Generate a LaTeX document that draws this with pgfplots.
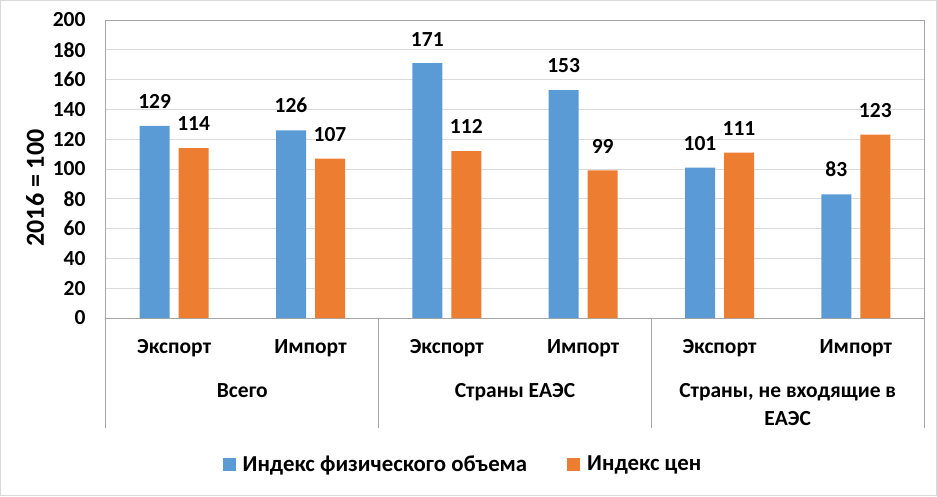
\documentclass[border=0pt]{standalone}
\usepackage{fontspec}
\setmainfont{Carlito}
\usepackage{pgfplots}
\pgfplotsset{compat=1.18}
\definecolor{cblue}{HTML}{5B9BD5}
\definecolor{corange}{HTML}{ED7D31}
\definecolor{gridc}{HTML}{D9D9D9}
\definecolor{axc}{HTML}{A6A6A6}
\newcommand{\ft}{\bfseries\fontsize{21.5}{25}\selectfont}
\newcommand{\fl}{\bfseries\fontsize{22.8}{27}\selectfont}
\newcommand{\fb}{\bfseries\fontsize{26}{30}\selectfont}
\begin{document}
\begin{tikzpicture}
\useasboundingbox (-106pt,-178pt) rectangle (831pt,318pt);
\draw[gridc, line width=1pt] (-105.5pt,-177.5pt) rectangle (830.5pt,317.5pt);
\begin{axis}[
  scale only axis, width=818pt, height=298pt,
  at={(0pt,0pt)}, anchor=south west,
  xmin=-0.5, xmax=5.5, ymin=0, ymax=200,
  ytick={0,20,...,200},
  xtick={0,...,5},
  xticklabels={Экспорт,Импорт,Экспорт,Импорт,Экспорт,Импорт},
  major tick length=0pt,
  ymajorgrids, grid style={gridc, line width=0.8pt},
  axis line style={axc, line width=1pt},
  ybar=9pt, bar width=30pt,
  /pgf/number format/assume math mode=true,
  tick label style={font=\ft, text=black},
  yticklabel style={xshift=-17pt},
  xticklabel style={anchor=base, yshift=-35pt},
  nodes near coords,
  every node near coord/.append style={font=\ft, text=black, anchor=south, inner sep=0pt, yshift=17pt},
  clip=false,
  legend columns=2,
  legend style={draw=none, fill=none, font=\fl, at={(0.4364,-0.49)}, anchor=center,
    /tikz/every even column/.append style={column sep=38pt}},
]
\addplot[fill=cblue, draw=none, legend image code/.code={\fill[cblue] (0pt,-6.5pt) rectangle (13pt,6.5pt); \path (18pt,0pt);}]
  coordinates {(0,129) (1,126) (2,171) (3,153) (4,101) (5,83)};
\addlegendentry{Индекс физического объема}
\addplot[fill=corange, draw=none, legend image code/.code={\fill[corange] (0pt,-6.5pt) rectangle (13pt,6.5pt); \path (18pt,0pt);}]
  coordinates {(0,114) (1,107) (2,112) (3,99) (4,111) (5,123)};
\addlegendentry{Индекс цен}
\draw[axc, line width=1pt] (axis cs:-0.5,0) -- ++(0pt,-110pt);
\draw[axc, line width=1pt] (axis cs:1.5,0) -- ++(0pt,-110pt);
\draw[axc, line width=1pt] (axis cs:3.5,0) -- ++(0pt,-110pt);
\draw[axc, line width=1pt] (axis cs:5.5,0) -- ++(0pt,-110pt);
\node[font=\ft, anchor=base, yshift=-79pt] at (axis cs:0.5,0) {Всего};
\node[font=\ft, anchor=base, yshift=-79pt] at (axis cs:2.5,0) {Страны ЕАЭС};
\node[font=\ft, anchor=base, yshift=-79pt] at (axis cs:4.5,0) {Страны, не входящие в};
\node[font=\ft, anchor=base, yshift=-107pt] at (axis cs:4.5,0) {ЕАЭС};
\end{axis}
\node[font=\fb, rotate=90, anchor=center] at (-71pt,130pt) {2016 = 100};
\end{tikzpicture}
\end{document}
